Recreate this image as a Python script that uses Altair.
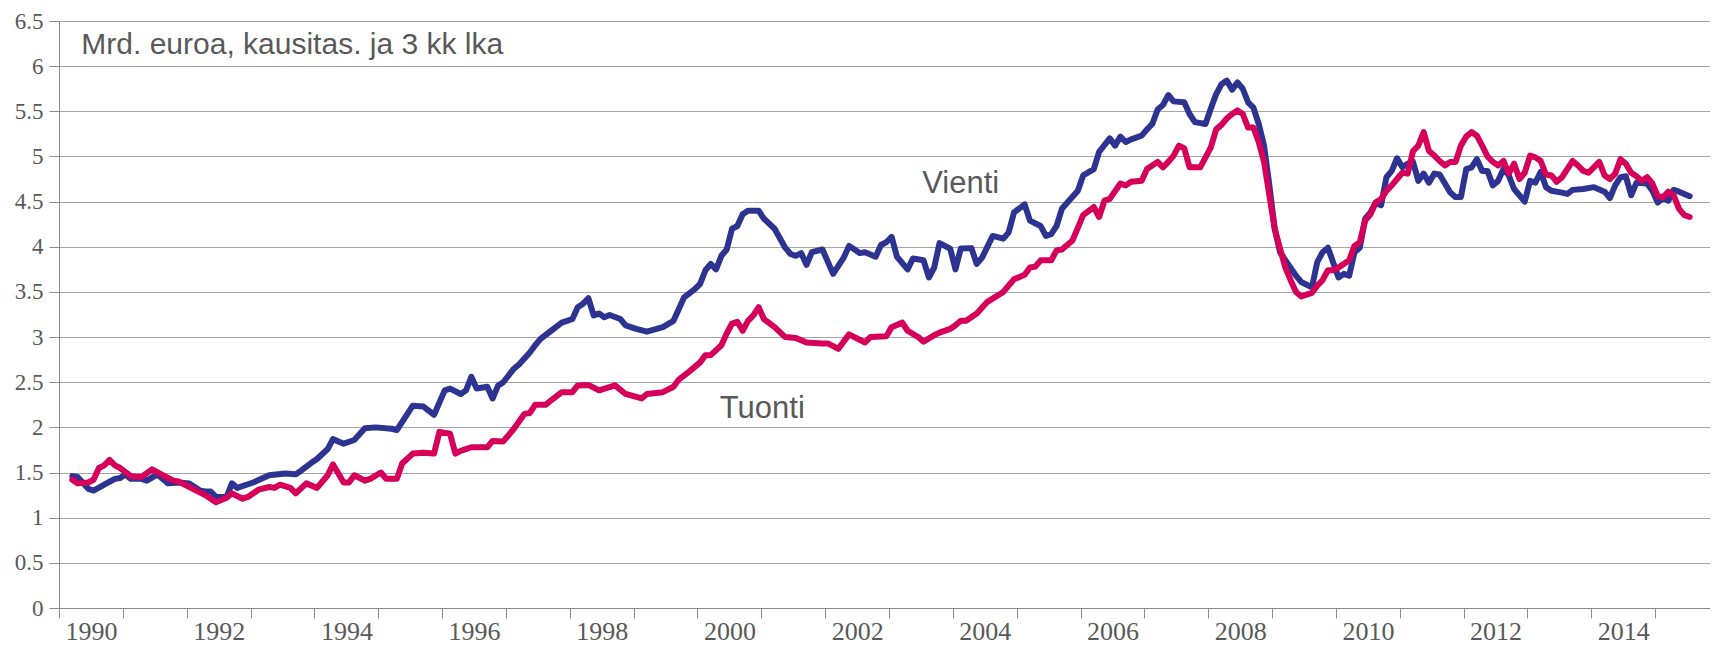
import altair as alt
import pandas as pd

# ---- data (3-month moving average, bn EUR) ----
vienti_months = [
    "1990-03","1990-04","1990-06","1990-07","1990-09","1990-11","1990-12",
    "1991-01","1991-02","1991-04","1991-05","1991-07","1991-08","1991-09","1991-11",
    "1992-01","1992-03","1992-04","1992-05","1992-06","1992-08","1992-09","1992-10",
    "1993-01","1993-04","1993-07","1993-09","1993-10","1993-12",
    "1994-01","1994-03","1994-04","1994-06","1994-08","1994-10","1994-12",
    "1995-03","1995-04","1995-07","1995-09","1995-11",
    "1996-01","1996-02","1996-04","1996-05","1996-06","1996-07","1996-09","1996-10","1996-11","1996-12",
    "1997-02","1997-03","1997-05","1997-06","1997-07","1997-09","1997-11","1997-12",
    "1998-01","1998-02","1998-03","1998-04","1998-05","1998-06","1998-07","1998-08","1998-10","1998-11",
    "1999-01","1999-03","1999-06","1999-08","1999-09","1999-10","1999-12",
    "2000-01","2000-02","2000-03","2000-04","2000-05","2000-06","2000-07","2000-08","2000-09","2000-10","2000-12",
    "2001-01","2001-03","2001-05","2001-06","2001-07","2001-08","2001-09","2001-10","2001-12",
    "2002-02","2002-04","2002-05","2002-07","2002-08","2002-10","2002-11","2002-12",
    "2003-01","2003-02","2003-04","2003-05","2003-07","2003-08","2003-09","2003-10","2003-12",
    "2004-01","2004-02","2004-04","2004-05","2004-06","2004-08","2004-10","2004-11","2004-12",
    "2005-02","2005-03","2005-05","2005-06","2005-07","2005-08","2005-09","2005-12",
    "2006-01","2006-03","2006-04","2006-06","2006-07","2006-08","2006-09","2006-10","2006-12",
    "2007-01","2007-02","2007-03","2007-04","2007-05","2007-06","2007-08","2007-09","2007-10","2007-12",
    "2008-01","2008-02","2008-03","2008-04","2008-05","2008-06","2008-07","2008-08","2008-09","2008-10","2008-11","2008-12",
    "2009-01","2009-02","2009-03","2009-05","2009-06","2009-08","2009-09","2009-10","2009-11",
    "2010-01","2010-02","2010-03","2010-04","2010-05","2010-06","2010-07","2010-08","2010-09","2010-10","2010-11","2010-12",
    "2011-01","2011-02","2011-03","2011-04","2011-05","2011-06","2011-07","2011-08","2011-10","2011-11","2011-12",
    "2012-01","2012-02","2012-03","2012-04","2012-05","2012-06","2012-07","2012-08","2012-09","2012-10","2012-12",
    "2013-01","2013-02","2013-03","2013-04","2013-05","2013-07","2013-08","2013-09","2013-11",
    "2014-01","2014-03","2014-04","2014-05","2014-06","2014-07","2014-08","2014-09","2014-11","2014-12",
    "2015-01","2015-02","2015-03","2015-04","2015-05","2015-07",
]
vienti_values = [
    1.46,1.45,1.32,1.30,1.365,1.43,1.44,
    1.48,1.43,1.43,1.41,1.48,1.43,1.38,1.39,
    1.38,1.30,1.29,1.29,1.23,1.23,1.38,1.33,
    1.39,1.47,1.49,1.48,1.52,1.61,
    1.65,1.76,1.87,1.82,1.86,1.99,2.00,
    1.985,1.97,2.24,2.23,2.14,
    2.41,2.43,2.37,2.41,2.56,2.43,2.45,2.32,2.46,2.50,
    2.65,2.70,2.83,2.91,2.98,3.07,3.16,3.18,
    3.20,3.33,3.37,3.43,3.24,3.26,3.22,3.245,3.20,3.13,
    3.09,3.06,3.11,3.18,3.31,3.44,3.53,
    3.59,3.74,3.81,3.75,3.90,3.97,4.20,4.23,4.36,4.40,4.40,
    4.31,4.20,3.99,3.92,3.90,3.93,3.80,3.94,3.97,
    3.70,3.88,4.01,3.93,3.94,3.89,4.02,4.05,
    4.11,3.89,3.75,3.87,3.85,3.66,3.77,4.04,3.98,
    3.75,3.98,3.985,3.81,3.88,4.12,4.09,4.16,4.38,
    4.47,4.29,4.23,4.12,4.14,4.23,4.42,4.62,
    4.79,4.86,5.05,5.20,5.12,5.22,5.16,5.19,5.23,
    5.30,5.36,5.52,5.57,5.68,5.61,5.60,5.47,5.38,5.36,
    5.53,5.69,5.80,5.84,5.74,5.82,5.75,5.60,5.54,5.36,5.12,4.68,
    4.20,3.94,3.85,3.68,3.61,3.55,3.83,3.94,3.99,
    3.66,3.70,3.68,3.94,3.99,4.31,4.38,4.49,4.46,4.77,4.84,4.98,
    4.88,4.92,4.94,4.73,4.81,4.71,4.81,4.80,4.60,4.55,4.55,
    4.86,4.88,4.97,4.84,4.84,4.68,4.73,4.86,4.79,4.64,4.50,
    4.73,4.71,4.83,4.66,4.62,4.60,4.585,4.63,4.64,
    4.66,4.61,4.54,4.68,4.77,4.78,4.57,4.71,4.70,4.62,
    4.49,4.54,4.51,4.63,4.61,4.56,
]

tuonti_months = [
    "1990-03","1990-04","1990-06","1990-07","1990-08","1990-09","1990-10","1990-11","1990-12",
    "1991-02","1991-04","1991-06","1991-08","1991-10","1991-11",
    "1992-01","1992-04","1992-06","1992-08","1992-09","1992-11","1992-12",
    "1993-02","1993-04","1993-05","1993-06","1993-08","1993-09","1993-11",
    "1994-01","1994-03","1994-04","1994-06","1994-07","1994-08","1994-10","1994-11",
    "1995-01","1995-02","1995-04","1995-05","1995-07","1995-09","1995-11","1995-12",
    "1996-02","1996-03","1996-04","1996-06","1996-09","1996-10","1996-12",
    "1997-02","1997-04","1997-05","1997-06","1997-08","1997-09","1997-11",
    "1998-01","1998-02","1998-04","1998-06","1998-09","1998-11",
    "1999-02","1999-03","1999-06","1999-08","1999-09","1999-11",
    "2000-01","2000-02","2000-03","2000-05","2000-06","2000-07","2000-08","2000-09","2000-10","2000-11","2000-12",
    "2001-01","2001-03","2001-05","2001-07","2001-09","2001-12",
    "2002-01","2002-03","2002-05","2002-08","2002-09","2002-12",
    "2003-01","2003-03","2003-04","2003-06","2003-07","2003-09","2003-10","2003-12",
    "2004-01","2004-02","2004-03","2004-05","2004-07","2004-10","2004-12",
    "2005-02","2005-03","2005-04","2005-05","2005-07","2005-08","2005-09","2005-11",
    "2006-01","2006-03","2006-04","2006-05","2006-06","2006-08","2006-09","2006-10","2006-12",
    "2007-01","2007-03","2007-04","2007-05","2007-06","2007-07","2007-08","2007-09","2007-10","2007-11",
    "2008-01","2008-02","2008-03","2008-04","2008-05","2008-06","2008-07","2008-08","2008-09","2008-10","2008-11","2008-12",
    "2009-01","2009-02","2009-03","2009-04","2009-05","2009-06","2009-07","2009-08","2009-09","2009-10","2009-11","2009-12",
    "2010-01","2010-03","2010-04","2010-05","2010-06","2010-07","2010-08","2010-09","2010-10","2010-11","2010-12",
    "2011-01","2011-02","2011-03","2011-04","2011-05","2011-06","2011-07","2011-08","2011-09","2011-10","2011-11","2011-12",
    "2012-01","2012-02","2012-03","2012-04","2012-05","2012-06","2012-07","2012-08","2012-09","2012-10","2012-11","2012-12",
    "2013-01","2013-02","2013-03","2013-04","2013-05","2013-06","2013-07","2013-09","2013-10","2013-11","2013-12",
    "2014-02","2014-03","2014-04","2014-05","2014-06","2014-07","2014-08","2014-09","2014-10","2014-11","2014-12",
    "2015-01","2015-02","2015-03","2015-04","2015-05","2015-06","2015-07",
]
tuonti_values = [
    1.42,1.38,1.39,1.42,1.55,1.58,1.64,1.58,1.55,
    1.46,1.45,1.535,1.47,1.41,1.40,
    1.34,1.25,1.17,1.22,1.27,1.21,1.23,
    1.31,1.34,1.33,1.365,1.33,1.27,1.38,
    1.33,1.47,1.59,1.39,1.39,1.47,1.41,1.43,
    1.50,1.43,1.43,1.60,1.71,1.72,1.71,1.95,
    1.93,1.71,1.74,1.78,1.78,1.85,1.845,
    1.985,2.15,2.16,2.25,2.25,2.30,2.39,
    2.39,2.465,2.47,2.41,2.465,2.37,
    2.32,2.37,2.39,2.45,2.53,2.62,
    2.72,2.80,2.80,2.91,3.04,3.15,3.17,3.07,3.18,3.24,3.33,
    3.20,3.11,3.00,2.99,2.94,2.93,
    2.93,2.87,3.03,2.94,3.00,3.01,
    3.11,3.16,3.07,3.00,2.95,3.02,3.05,3.09,
    3.13,3.18,3.18,3.26,3.39,3.50,3.64,
    3.69,3.77,3.78,3.85,3.85,3.96,3.97,4.07,
    4.35,4.44,4.33,4.51,4.53,4.70,4.68,4.72,4.73,
    4.86,4.94,4.88,4.94,5.01,5.12,5.09,4.88,4.88,4.88,
    5.10,5.30,5.35,5.42,5.47,5.51,5.47,5.32,5.32,5.16,4.94,4.57,
    4.20,3.98,3.77,3.63,3.50,3.45,3.47,3.49,3.57,3.63,3.74,3.74,
    3.77,3.85,4.01,4.05,4.29,4.36,4.49,4.53,4.62,4.68,4.75,
    4.82,4.81,5.06,5.12,5.27,5.06,5.01,4.95,4.90,4.94,4.94,5.12,
    5.22,5.27,5.23,5.12,5.00,4.94,4.90,4.95,4.81,4.92,4.75,4.82,
    5.01,4.99,4.95,4.80,4.79,4.72,4.77,4.95,4.90,4.84,4.82,
    4.94,4.79,4.75,4.81,4.97,4.92,4.82,4.78,4.73,4.77,4.70,
    4.56,4.55,4.61,4.57,4.42,4.35,4.33,
]

label_texts = ["Mrd. euroa, kausitas. ja 3 kk lka", "Vienti", "Tuonti"]
label_x = [1990.35, 2003.52, 2000.35]
label_y = [6.135, 4.60, 2.10]
label_sizes = [30, 31, 31]

year_ticks = list(range(1990, 2016))
y_ticks = [i * 0.5 for i in range(14)]

BLUE = "#2d3391"
RED = "#d6005b"
TXT = "#595959"


def to_df(months, values):
    t = [int(m[:4]) + (int(m[5:7]) - 0.5) / 12 for m in months]
    return pd.DataFrame({"t": t, "v": values})


df_v = to_df(vienti_months, vienti_values)
df_t = to_df(tuonti_months, tuonti_values)
df_lab = pd.DataFrame({"text": label_texts, "t": label_x, "v": label_y, "size": label_sizes})

x_scale = alt.Scale(domain=[1990, 2015.86], nice=False, zero=False)
y_scale = alt.Scale(domain=[0, 6.5], nice=False)

x_axis = alt.Axis(
    values=year_ticks,
    labelExpr="datum.value % 2 == 0 ? toString(datum.value) : ''",
    labelOffset=32,
    tickSize=10,
    labelPadding=0,
    grid=False,
    domainColor="#8c8c8c",
    tickColor="#8c8c8c",
    labelFont="Liberation Serif",
    labelFontSize=26,
    labelColor=TXT,
    labelFlush=False,
    labelOverlap=False,
    labelBound=False,
    title=None,
)
y_axis = alt.Axis(
    values=y_ticks,
    labelExpr="toString(datum.value)",
    tickSize=10,
    labelPadding=6,
    grid=True,
    gridColor="#a6a6a6",
    gridWidth=1,
    domainColor="#8c8c8c",
    tickColor="#8c8c8c",
    labelFont="Liberation Serif",
    labelFontSize=23,
    labelColor=TXT,
    labelFlush=False,
    labelOverlap=False,
    labelBound=False,
    title=None,
)

blue = alt.Chart(df_v).mark_line(
    color=BLUE, strokeWidth=6, strokeJoin="round", strokeCap="round"
).encode(
    x=alt.X("t:Q", scale=x_scale, axis=x_axis),
    y=alt.Y("v:Q", scale=y_scale, axis=y_axis),
)
red = alt.Chart(df_t).mark_line(
    color=RED, strokeWidth=6, strokeJoin="round", strokeCap="round"
).encode(
    x=alt.X("t:Q", scale=x_scale),
    y=alt.Y("v:Q", scale=y_scale),
)
labels = alt.Chart(df_lab).mark_text(
    align="left", baseline="alphabetic", font="Liberation Sans", color=TXT
).encode(
    x=alt.X("t:Q", scale=x_scale),
    y=alt.Y("v:Q", scale=y_scale),
    text="text:N",
    size=alt.Size("size:Q", scale=None, legend=None),
)

chart = alt.layer(blue, red, labels).properties(
    width=1651,
    height=587,
    padding={"left": 51, "top": 13, "right": 0, "bottom": 38},
    autosize=alt.AutoSizeParams(type="none"),
    background="white",
).configure_view(stroke=None)

chart.save("out.html", embed_options={"renderer": "svg", "actions": False})
